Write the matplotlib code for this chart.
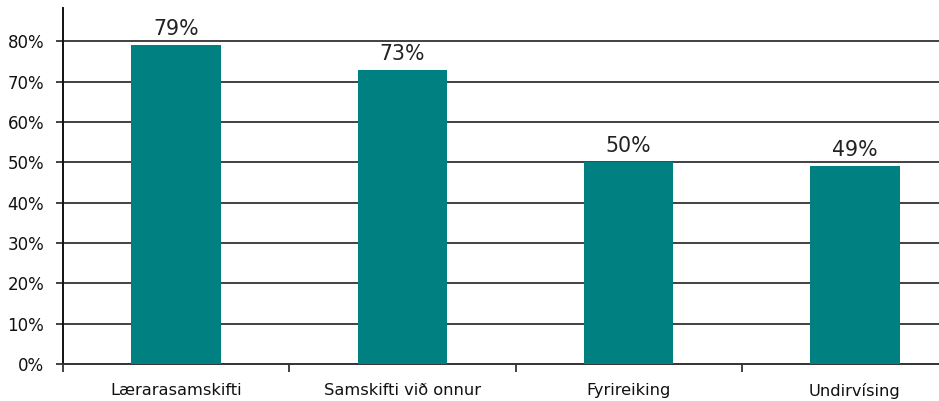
import matplotlib
matplotlib.use("Agg")
import matplotlib.pyplot as plt
import numpy as np

categories = ["Lærarasamskifti", "Samskifti við onnur", "Fyrireiking", "Undirvísing"]
values = [0.79, 0.73, 0.50, 0.49]
value_labels = ["79%", "73%", "50%", "49%"]
ytick_values = [0.0, 0.1, 0.2, 0.3, 0.4, 0.5, 0.6, 0.7, 0.8]
ytick_labels = ["0%", "10%", "20%", "30%", "40%", "50%", "60%", "70%", "80%"]

W, H = 939, 401
fig = plt.figure(figsize=(W / 100, H / 100), dpi=100)
left, right, bottom, top = 63, 968, 364, 8
ax = fig.add_axes([left / W, (H - bottom) / H, (right - left) / W, (bottom - top) / H])

x = np.arange(len(categories))
ax.bar(x, values, width=0.395, color="#008080", zorder=3)
for xi, v, lab in zip(x, values, value_labels):
    ax.text(xi, v + 0.025, lab, ha="center", va="baseline", fontsize=14.8,
            color="#222222", family="DejaVu Sans")

ax.set_xlim(-0.5, len(categories) - 0.5)
ax.set_ylim(0, 0.883)
ax.set_yticks(ytick_values)
ax.set_yticklabels(ytick_labels, fontsize=12, color="#111111")
for yv in ytick_values[1:]:
    ax.axhline(yv, color="#333333", linewidth=1.3, zorder=1)

ax.set_xticks(x)
ax.set_xticklabels(categories, fontsize=11.7, color="#111111")
ax.tick_params(axis="x", length=0, pad=14)
ax.set_xticks(np.arange(-0.5, len(categories), 1.0), minor=True)
ax.tick_params(axis="x", which="minor", length=6, width=1.2, color="#222222")
ax.tick_params(axis="y", length=5, width=1.2, color="#222222", pad=8.5)

for s in ["top", "right"]:
    ax.spines[s].set_visible(False)
ax.spines["left"].set_linewidth(1.4)
ax.spines["left"].set_color("#111111")
ax.spines["bottom"].set_linewidth(1.4)
ax.spines["bottom"].set_color("#333333")

fig.savefig("out.png", dpi=100)
